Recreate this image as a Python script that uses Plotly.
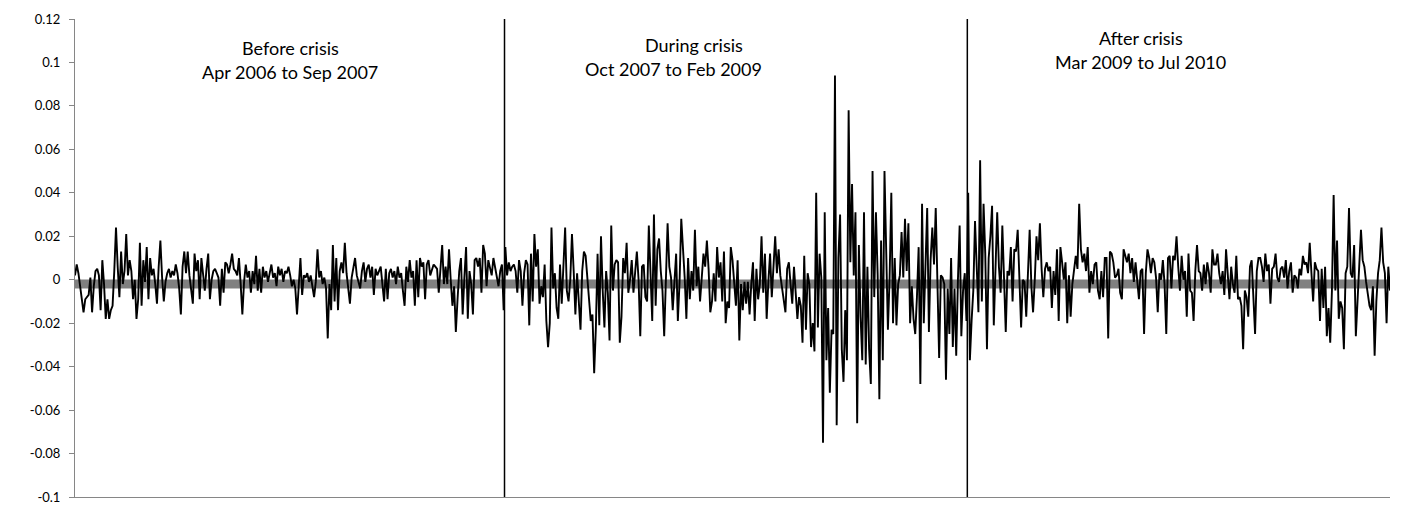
import numpy as np
import plotly.graph_objects as go

# Daily returns, in thousandths (0.001 units)
before_milli = [
    2, 7, 3, -3, -8, -15, -9, -8, -7, 1,
    -15, -3, 4, 5, 2, -14, 9, -2, -18, -9,
    -18, -14, -12, 4, 24, 6, -8, 13, -2, 4,
    21, 2, 9, 4, -9, 0, -18, -9, 17, -12,
    9, -1, 15, -9, 10, 2, 5, -2, -11, 6,
    18, 1, -10, -1, 3, 5, 1, 4, 2, 7,
    3, -4, -16,
    6, 13, 3, 13, 2, -5, -11, 12, 4, 9,
    -9, 10, 1, -5, 5, 12, -9, 0, 4, 5,
    3, 1, -12, 5, -6, 8, 7, 3, 7, 12,
    5, 4, 2, 10, -2, -16, -1, 7, 1, 4,
    -6, 4, -2, 11, -5, 5, -6, 6, 1, 4,
    -1, 3, 7, 1, 3, -3, 6, 2, 5, -1,
    4, 3, 6, 2, -3,
    0, -4, -16, -3, 10, -7, 2, 1, 3, -1,
    2, -3, -8, -1, 14, 1, 4, -2, 1, -4,
    -27, -2, -14, 16, -10, 10, -14, 4, 8, 3,
    17, 3, -4, -11, 1, 6, 10, 2, -1, -4,
    4, 8, -1, 5, 7, 1, 6, -7, 5, 2,
    4, 6, -2, -10, 5, -9, 3, 5, 1, 4,
    -2, 6, 1, 3, -5,
    -12, 6, -1, 9, 1, 4, -12, 9, -8, 10,
    6, 8, -9, 7, 9, 2, 5, 7, 6, 5,
    -6, 7, 16, -2, 6, -2, 14, 0, -12, -3,
    -24, -9, 4, 10, -16, 1, 15, -18, 4, -2,
    -16, 9, 10, 6, 10, -6, 16, 12, -3, 9,
    5, 2, 10, 6, 1, -3, 4, 7, -14,
]

during_milli = [
    15, 2, 8, 4, 6,
    7, 4, -6, 9, 4, -12, 3, 9, 7, -21,
    12, -10, 21, 6, 14, -11, -3, -8, 7, -19,
    -31, -20, 24, -4, 3, -13, -18, 7, -11, 7,
    24, -5, -10, 0, 21, 4, -16, 3, -9, -23,
    4, 13, 11, 1, -8, -19, -16, -43, -22, 12,
    -21, 20, -5, -22, 4, -6, -28, 25, -5, 7,
    9, 8, -29,
    -17, 10, 3, 17, -6, 0, 9, -6, 6, 13,
    0, -26, 6, 7, -8, -10, 25, 0, -19, 30,
    -12, 14, 19, 4, -5, -26, 4, 26, 6, 1,
    -14, -3, 12, -19, -1, 28, 16, 1, -18, 10,
    -9, 4, -5, 23, -3, 6, -10, 3, 12, 6,
    18, 5, -15, -10, 3, -10, 15, 1, 8, -10,
    13, -20, -10, -13,
    15, 9, 0, -12, 9, -28, -2, -14, -1, -11,
    -1, -16, -2, 8, -19, 5, -9, -2, 20, -6,
    12, -18, -1, 12, -8, 7, 20, 3, 14, 2,
    -3, -8, -15, 5, 8, -2, -11, 6, -6, -18,
    -8, -12, -29, 11, -23, 3, -2, -31, -20, -33,
    40, -22, 12, 1, -75, 31, -37, -13, -52, -23,
    -25, 94, -67, 10,
    30, -32, -47, -14, -37, 78, 8, 44, 2, 31,
    -66, 16, -17, -37, 31, -39, 6, -32, -48, 50,
    -8, 31, 2, -55, 18, -37, 50, 14, -23, 1,
    40, -20, 10, -21, -2, 2, 22, 1, 28, 4,
    26, -20, -3, -18, -25, -8, 15, -48, 35, -20,
    12, 33, -24, 9, 24, 7, 33, -1, -36, 2,
    1, -2, -46, -4, -25, 10,
    -31, -4, -35, 0, 25, -26, -5, 3, -19,
]

after_milli = [
    40, -37, -19, -5, 27, 8, -15, 55, -10, 35,
    12, -32, 10, 20, 34, -21, 6, 31, 6, -6,
    25, 4, -24, 4, 2, 15, -10, 14, 13, 23,
    -3, -22, 0, -1, -17, 6, 23, -3, -15, 0,
    20, 9, 26, 5, -8, 5, 8, 4, 6, -13,
    4, -7, 14, -19, 15, 8, 0, 8,
    -20, 2, -17, -2, 4, 11, 5, 35, 14, 8,
    12, 4, 15, -6, 4, -2, 7, 8, -5, -9,
    4, -8, 10, 10, -27, 13, 12, 8, 1, 2,
    5, -6, -9, 14, 11, 8, 12, 3, 10, -1,
    8, 0, -9, 4, 5, -25, 3, 14, 10, 3,
    10, 8, 1, -15, 3, 0, 9, -2, -25, 10,
    11, -4, 11, 9,
    20, 6, -5, 11, 0, 4, -17, 12, -5, -6,
    -19, 4, 16, 4, 3, -5, 7, -2, 8, 3,
    -6, 14, 7, 7, 12, 3, -2, 4, -7, 14,
    0, -9, 6, -2, -6, 11, -9, -8, -12, -32,
    -5, -8, -17, 6, 9, -9, -25, 4, 10, 10,
    6, -1, 12, 4, 7, -11, 5, 6, 12, 1,
    -1, 5, 6, 1,
    9, -4, 4, 8, -6, 2, 1, -4, 5, 2,
    11, 7, 8, 3, 17, 3, -10, 8, 5, 4,
    -19, 5, -13, 6, -26, -13, -29, -5, 39, -5,
    18, -18, -10, -13, -32, 3, 6, 33, 3, 1,
    16, -26, -9, 8, 23, 9, 6, -1, -8, -12,
    -14, -3, -35, -10, 3, 9, 24, 8, 3, -20,
    6, -5,
]

zero_band_level = -0.002

y_tick_vals = [-0.1, -0.08, -0.06, -0.04, -0.02, 0, 0.02, 0.04, 0.06, 0.08, 0.1, 0.12]
y_tick_text = ["-0.1", "-0.08", "-0.06", "-0.04", "-0.02", "0", "0.02", "0.04", "0.06", "0.08", "0.1", "0.12"]

period_titles = ["Before crisis", "During crisis", "After crisis"]
period_ranges = ["Apr 2006 to Sep 2007", "Oct 2007 to Feb 2009", "Mar 2009 to Jul 2010"]

returns = np.array(before_milli + during_milli + after_milli, dtype=float) / 1000.0
n = len(returns)
x = np.arange(n)
boundary1 = len(before_milli) - 0.5
boundary2 = len(before_milli) + len(during_milli) - 0.5

fig = go.Figure()
fig.add_trace(go.Scatter(
    x=[0, n - 1], y=[zero_band_level, zero_band_level], mode="lines",
    line=dict(color="#808080", width=9), hoverinfo="skip", showlegend=False))
fig.add_trace(go.Scatter(
    x=x, y=returns, mode="lines",
    line=dict(color="#000000", width=1.9), showlegend=False))

for b in (boundary1, boundary2):
    fig.add_shape(type="line", xref="x", yref="paper", x0=b, x1=b, y0=0, y1=1,
                  line=dict(color="#000000", width=1.5))

font_family = "Lato, 'Open Sans', sans-serif"
# (title x, title y, range x, range y) in paper coordinates
label_pos = [(0.1635, 0.9393, 0.1635, 0.8891),
             (0.4707, 0.9456, 0.4555, 0.8954),
             (0.8106, 0.9603, 0.8106, 0.9100)]
for (xt, yt, xr, yr), t, r in zip(label_pos, period_titles, period_ranges):
    fig.add_annotation(x=xt, y=yt, xref="paper", yref="paper", text=t, showarrow=False,
                       xanchor="center", yanchor="middle",
                       font=dict(size=18, color="#000000", family=font_family))
    fig.add_annotation(x=xr, y=yr, xref="paper", yref="paper", text=r, showarrow=False,
                       xanchor="center", yanchor="middle",
                       font=dict(size=18, color="#000000", family=font_family))

fig.update_layout(
    width=1411, height=510,
    margin=dict(l=75, r=21, t=19, b=13),
    paper_bgcolor="white", plot_bgcolor="white",
    font=dict(family=font_family, size=13, color="#000000"),
    xaxis=dict(range=[0, n - 1], showticklabels=False, showgrid=False, zeroline=False,
               showline=True, linecolor="#868686", linewidth=1, ticks="",
               automargin=False),
    yaxis=dict(range=[-0.1, 0.12], tickvals=y_tick_vals, ticktext=y_tick_text,
               showgrid=False, zeroline=False, showline=True, linecolor="#868686",
               linewidth=1, ticks="outside", ticklen=5, tickcolor="#868686",
               ticklabelstandoff=6, automargin=False,
               tickfont=dict(size=13, color="#000000")),
)

fig.write_html("out.html")
